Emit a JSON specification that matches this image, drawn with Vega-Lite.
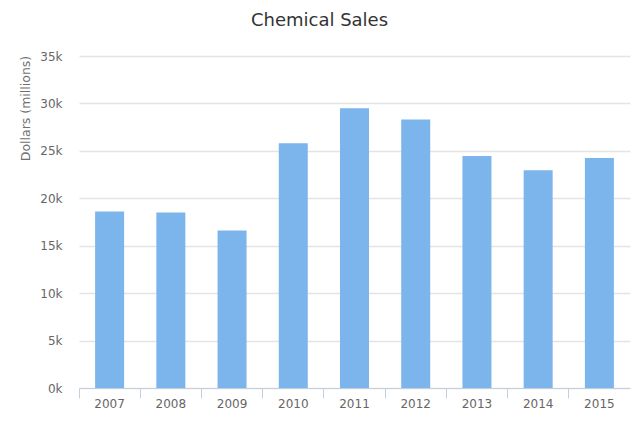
{"$schema":"https://vega.github.io/schema/vega-lite/v6.json","autosize":{"type":"none"},"width":551,"height":332,"padding":{"left":79,"top":56,"right":10,"bottom":39},"background":"white","view":{"stroke":null},"title":{"text":"Chemical Sales","font":"DejaVu Sans","fontSize":18,"fontWeight":"normal","color":"#333333","anchor":"middle","offset":20,"dx":-35},"data":{"values":[{"year":"2007","sales":18600},{"year":"2008","sales":18500},{"year":"2009","sales":16600},{"year":"2010","sales":25800},{"year":"2011","sales":29500},{"year":"2012","sales":28300},{"year":"2013","sales":24450},{"year":"2014","sales":22950},{"year":"2015","sales":24250}]},"mark":{"type":"bar","color":"#7cb5ec","size":29},"encoding":{"x":{"field":"year","type":"nominal","title":null,"scale":{"paddingInner":0,"paddingOuter":0},"axis":{"labelAngle":0,"labelFont":"DejaVu Sans","labelFontSize":12,"labelColor":"#666666","domainColor":"#c0d0e0","tickColor":"#c0d0e0","tickSize":10,"bandPosition":0,"labelPadding":0,"grid":false}},"y":{"field":"sales","type":"quantitative","title":"Dollars (millions)","scale":{"domain":[0,35000]},"axis":{"values":[0,5000,10000,15000,20000,25000,30000,35000],"labelExpr":"(datum.value/1000)+'k'","labelFont":"DejaVu Sans","labelFontSize":12,"labelColor":"#666666","titleFont":"DejaVu Sans","titleFontSize":12.5,"titleFontWeight":"normal","titleColor":"#707070","titleX":-47,"titleY":52,"gridColor":"#e4e4e4","gridWidth":1.5,"domain":false,"ticks":false,"labelPadding":17}}}}
